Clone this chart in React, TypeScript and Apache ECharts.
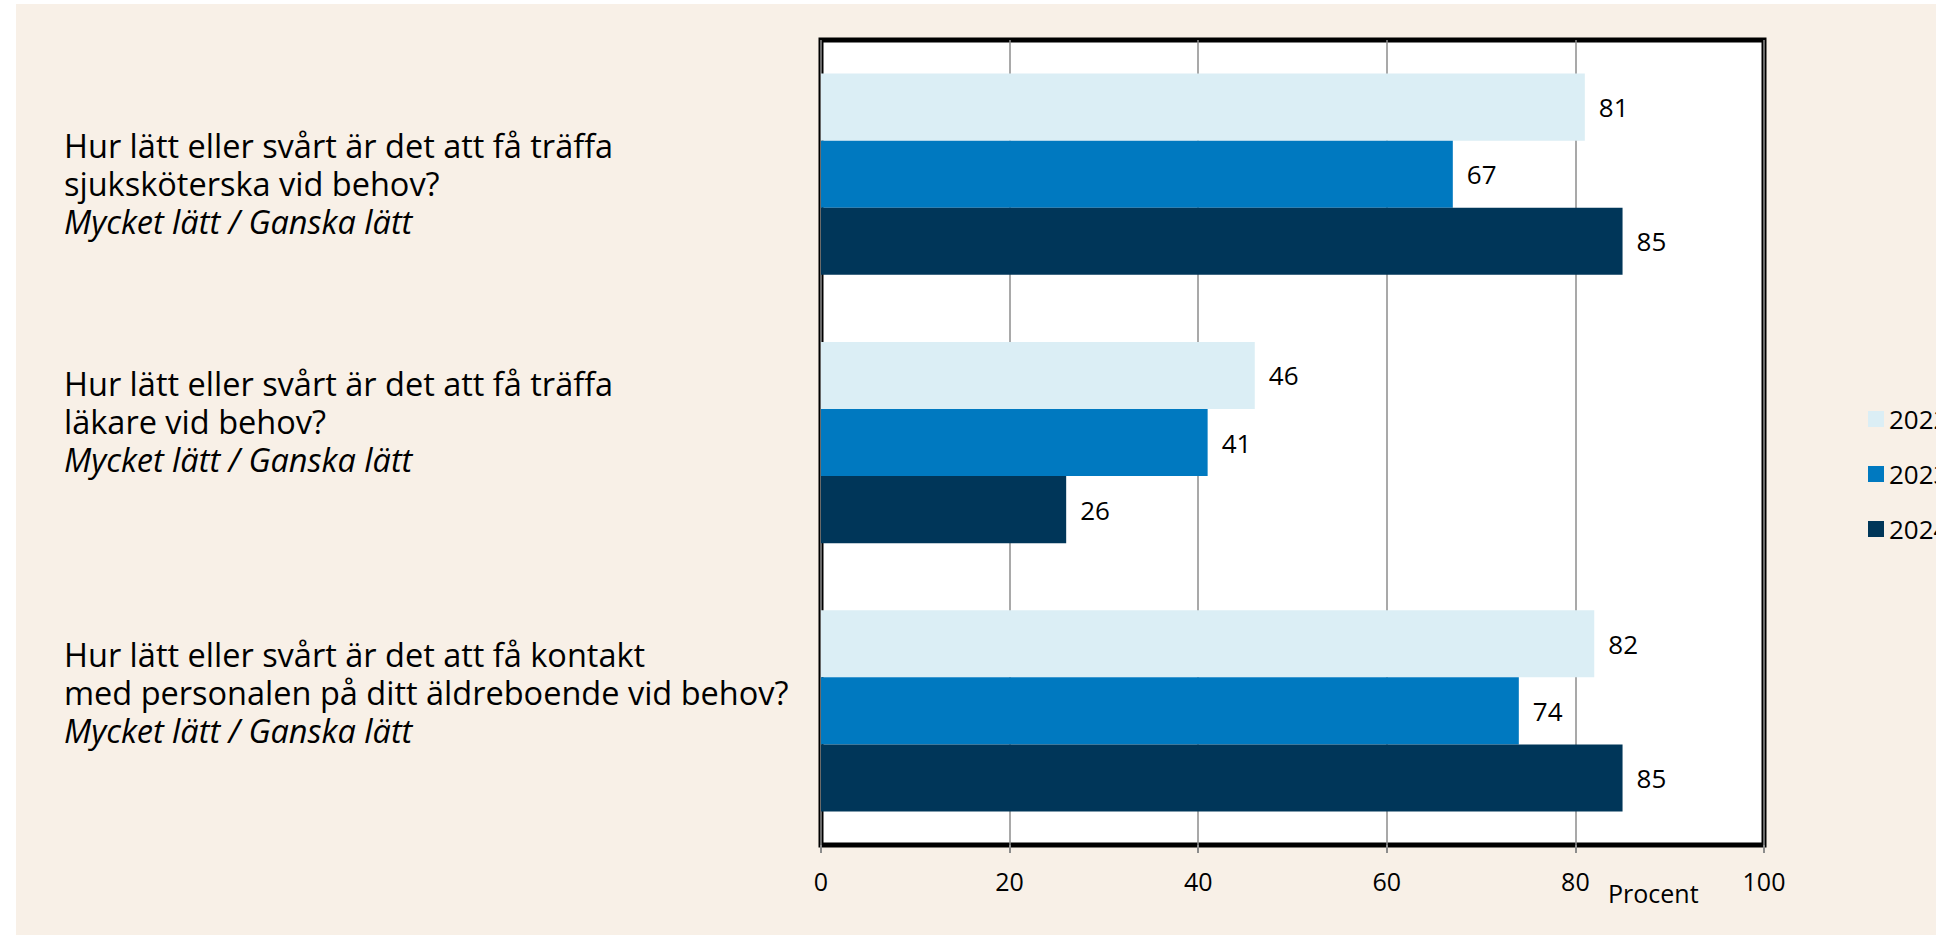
import React, { useEffect, useRef } from "react";
import * as echarts from "echarts";

const questions = [
  ["Hur lätt eller svårt är det att få träffa", "sjuksköterska vid behov?", "Mycket lätt / Ganska lätt"],
  ["Hur lätt eller svårt är det att få träffa", "läkare vid behov?", "Mycket lätt / Ganska lätt"],
  ["Hur lätt eller svårt är det att få kontakt", "med personalen på ditt äldreboende vid behov?", "Mycket lätt / Ganska lätt"],
];
const years = ["2022", "2023", "2024"];
const values2022 = [81, 46, 82];
const values2023 = [67, 41, 74];
const values2024 = [85, 26, 85];
const xTicks = [0, 20, 40, 60, 80, 100];
const axisTitle = "Procent";

const colors = ["#DBEEF5", "#0079C0", "#003659"];
const labelPadding = [
  [18, 0, 0, 0],
  [0, 0, 42, 0],
  [0, 0, 36, 0],
];

export default function App() {
  const ref = useRef<HTMLDivElement>(null);
  useEffect(() => {
    if (!ref.current) return;
    const chart = echarts.init(ref.current, null, { renderer: "svg" });
    const font = "'Open Sans', 'Noto Sans', sans-serif";
    const seriesData = [values2022, values2023, values2024];
    chart.setOption({
      animation: false,
      backgroundColor: "#F8F0E7",
      textStyle: { fontFamily: font },
      grid: {
        left: 805,
        right: 172,
        top: 36,
        bottom: 90,
        show: true,
        backgroundColor: "#FFFFFF",
        borderColor: "#000000",
        borderWidth: 5,
        containLabel: false,
        outerBoundsMode: "none",
      },
      legend: {
        orient: "vertical",
        left: 1847,
        top: 397,
        itemWidth: 16,
        itemHeight: 16,
        itemGap: 29,
        icon: "rect",
        data: years,
        textStyle: { fontSize: 26, color: "#000", fontFamily: font },
      },
      xAxis: {
        type: "value",
        min: xTicks[0],
        max: xTicks[xTicks.length - 1],
        interval: 20,
        axisLine: { show: false },
        axisTick: { show: true, length: 8, lineStyle: { color: "#8C8C8C", width: 2 } },
        axisLabel: {
          fontSize: 25,
          color: "#000",
          margin: 23,
          fontFamily: font,
        },
        splitLine: { show: true, lineStyle: { color: "#8C8C8C", width: 1.5 } },
      },
      yAxis: {
        type: "category",
        inverse: true,
        data: questions.map((q, i) => ({
          value: q.join("\n"),
          textStyle: { padding: labelPadding[i], align: "left" },
        })),
        axisLine: { show: false },
        axisTick: { show: false },
        axisLabel: {
          align: "left",
          margin: 757,
          formatter: (v: string) => {
            const parts = v.split("\n");
            return `{a|${parts[0]}}\n{a|${parts[1]}}\n{b|${parts[2]}}`;
          },
          rich: {
            a: { fontSize: 32.5, lineHeight: 38, color: "#000", fontFamily: font, align: "left" },
            b: { fontSize: 32.5, lineHeight: 38, color: "#000", fontFamily: font, fontStyle: "italic", align: "left" },
          },
        },
      },
      graphic: [
        {
          type: "text",
          left: 1592,
          top: 876,
          style: { text: axisTitle, fontSize: 25, fill: "#000", fontFamily: font },
        },
      ],
      series: years.map((y, i) => ({
        name: y,
        type: "bar",
        data: seriesData[i],
        barGap: "0%",
        barCategoryGap: "25%",
        itemStyle: { color: colors[i] },
        label: {
          show: true,
          position: "right",
          distance: 14,
          fontSize: 26,
          color: "#000",
          fontFamily: font,
        },
      })),
    });
    return () => chart.dispose();
  }, []);
  return (
    <div style={{ position: "absolute", left: 0, top: 0, width: 1936, height: 935, background: "#fff" }}>
      <div ref={ref} style={{ position: "absolute", left: 16, top: 4, width: 1920, height: 931 }} />
    </div>
  );
}
